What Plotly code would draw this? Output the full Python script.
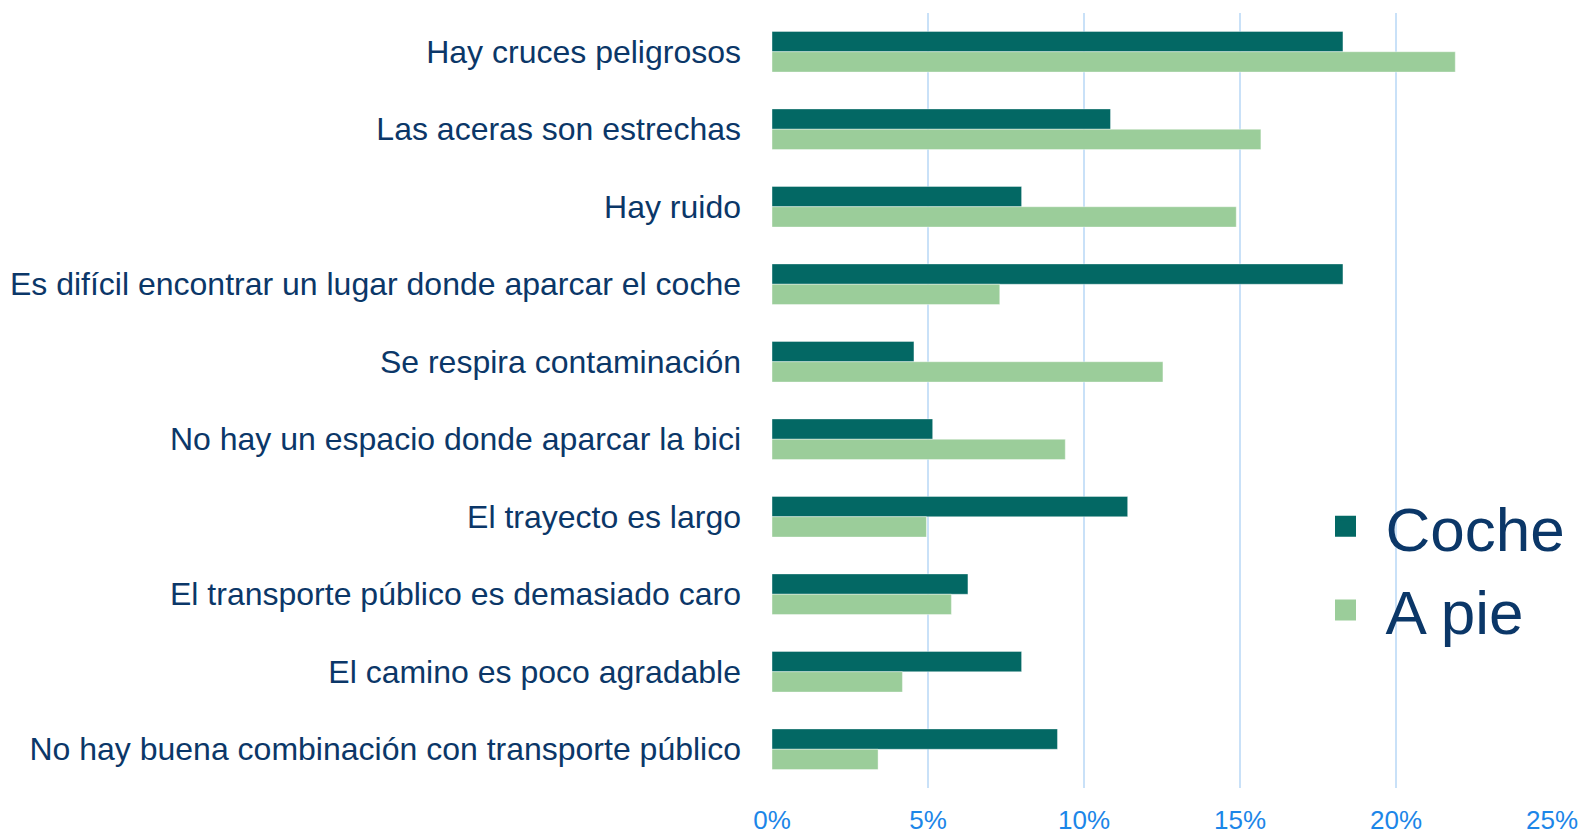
import plotly.graph_objects as go

categorias = [
    "Hay cruces peligrosos",
    "Las aceras son estrechas",
    "Hay ruido",
    "Es difícil encontrar un lugar donde aparcar el coche",
    "Se respira contaminación",
    "No hay un espacio donde aparcar la bici",
    "El trayecto es largo",
    "El transporte público es demasiado caro",
    "El camino es poco agradable",
    "No hay buena combinación con transporte público",
]
coche = [18.3, 10.85, 8.0, 18.3, 4.55, 5.15, 11.4, 6.28, 8.0, 9.15]
a_pie = [21.9, 15.67, 14.88, 7.3, 12.53, 9.4, 4.95, 5.75, 4.18, 3.4]

tick_vals = [0, 5, 10, 15, 20, 25]
tick_text = ["0%", "5%", "10%", "15%", "20%", "25%"]

col_coche = "#036864"
col_pie = "#9BCD9A"
col_texto = "#0B3768"

fig = go.Figure()
fig.add_trace(go.Bar(y=categorias, x=coche, name="Coche", orientation="h",
                     marker=dict(color=col_coche, line=dict(color="rgba(255,255,255,0.5)", width=0.8)),
                     showlegend=False))
fig.add_trace(go.Bar(y=categorias, x=a_pie, name="A pie", orientation="h",
                     marker=dict(color=col_pie, line=dict(color="rgba(255,255,255,0.5)", width=0.8)),
                     showlegend=False))

# legend entries with bigger square markers
fig.add_trace(go.Scatter(x=[None], y=[None], mode="markers", name="Coche",
                         marker=dict(symbol="square", size=24, color=col_coche,
                                     line=dict(color=col_coche, width=5))))
fig.add_trace(go.Scatter(x=[None], y=[None], mode="markers", name="A pie",
                         marker=dict(symbol="square", size=24, color=col_pie,
                                     line=dict(color=col_pie, width=5))))

fig.update_layout(
    width=1583, height=835,
    margin=dict(l=772, r=31, t=13, b=47),
    barmode="group", bargap=0.475, bargroupgap=0,
    plot_bgcolor="white", paper_bgcolor="white",
    font=dict(family="Liberation Sans, Arial", color=col_texto),
    legend=dict(x=0.684, y=0.398, xanchor="left", yanchor="top",
                font=dict(size=62, color=col_texto), itemsizing="trace", itemwidth=70,
                bgcolor="rgba(255,255,255,0)"),
)
fig.update_xaxes(range=[0, 25], tickvals=tick_vals, ticktext=tick_text,
                 showgrid=True, gridcolor="#C9E1F8", gridwidth=2, zeroline=False,
                 tickfont=dict(size=26, color="#1C86E8"), ticks="", ticklabelstandoff=14,
                 ticklabeloverflow="allow", showline=False, automargin=False)
fig.update_yaxes(autorange="reversed", tickfont=dict(size=32, color=col_texto),
                 ticks="", ticklabelstandoff=30, showgrid=False, showline=False,
                 automargin=False)

# drop the default 8px page margin so the figure fills the window
fig.write_html("out.html", config={"displayModeBar": False},
               post_script="document.body.style.margin = '0';")
